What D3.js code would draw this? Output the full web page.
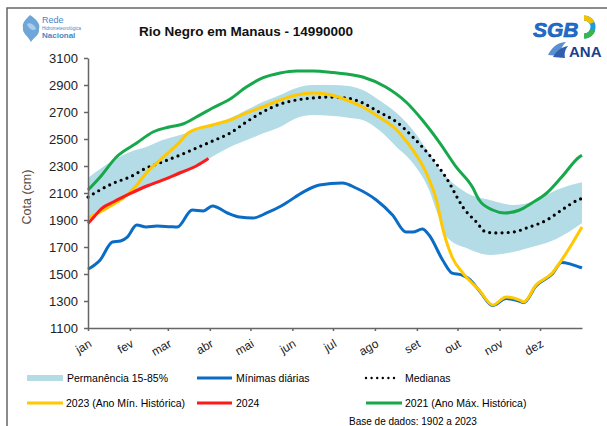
<!DOCTYPE html>
<html>
<head>
<meta charset="utf-8">
<script src="https://cdn.jsdelivr.net/npm/d3@7"></script>
<style>
  body { margin: 0; background: #fff; }
  text { font-family: Arial, "Liberation Sans", sans-serif; }
</style>
</head>
<body>
<script>
// month labels and their first day of year
const months = ["jan","fev","mar","abr","mai","jun","jul","ago","set","out","nov","dez"];
const monthStarts = [0,31,59,90,120,151,181,212,243,273,304,334];
const yTicks = [1100,1300,1500,1700,1900,2100,2300,2500,2700,2900,3100];

// permanencia 15-85% band
const bandDays = [0,19,31,43,55,68,80,92,105,117,129,142,154,166,181,191,203,215,228,240,252,258,265,280,297,314,330,346,365];
const bandHigh = [2211,2344,2404,2440,2492,2530,2567,2604,2655,2715,2774,2826,2878,2900,2900,2895,2863,2789,2693,2567,2396,2300,2218,2100,2048,2011,2040,2122,2180];
const bandLow  = [1915,2026,2085,2137,2185,2233,2290,2370,2441,2490,2540,2589,2655,2678,2670,2660,2641,2567,2441,2322,2122,1952,1774,1690,1641,1663,1705,1760,1878];

// medianas
const medDays = [0,19,31,43,55,68,80,92,105,117,129,142,154,166,178,191,203,215,228,240,247,257,267,273,277,287,294,302,314,326,339,350,362,365];
const medVals = [2070,2174,2219,2285,2330,2381,2433,2485,2544,2626,2700,2759,2789,2804,2811,2804,2767,2700,2626,2515,2441,2322,2174,2063,1996,1885,1811,1804,1811,1848,1900,1974,2048,2060];

// minimas diarias
const minDays = [0,9,18,24,29,36,43,51,61,66,77,85,92,103,112,122,132,142,147,159,171,188,198,213,225,235,240,247,252,262,269,276,282,289,299,309,319,322,331,343,350,356,362,365];
const minVals = [1535,1604,1737,1744,1774,1863,1848,1855,1850,1848,1974,1967,2004,1952,1922,1915,1952,2000,2030,2107,2159,2174,2137,2048,1937,1811,1811,1833,1789,1604,1507,1493,1460,1378,1266,1318,1298,1288,1412,1500,1585,1575,1555,1545];

// 2023 (ano min. historica)
const y2023Days = [0,9,18,26,36,43,55,66,75,92,105,117,129,142,154,166,176,191,203,215,228,240,250,258,262,269,277,289,299,309,319,322,331,343,350,358,365];
const y2023Vals = [1915,1960,2011,2063,2159,2248,2360,2460,2552,2604,2641,2693,2737,2789,2826,2841,2833,2789,2737,2663,2567,2418,2248,2026,1841,1626,1507,1381,1270,1330,1307,1293,1418,1507,1604,1730,1848];

// 2024
const y2024Days = [0,5,10,19,31,43,55,68,80,89];
const y2024Vals = [1875,1930,1985,2035,2095,2150,2195,2250,2300,2355];

// 2021 (ano max. historica)
const y2021Days = [0,9,21,36,48,60,70,80,92,105,117,129,142,154,166,181,203,220,235,247,260,272,284,289,299,308,319,328,339,350,363,365];
const y2021Vals = [2122,2219,2367,2470,2552,2589,2611,2663,2730,2796,2885,2952,2989,3004,3004,2992,2959,2885,2774,2641,2470,2293,2144,2048,1974,1952,1974,2026,2100,2218,2367,2380];

const W = 607, H = 426;
const svg = d3.select("body").append("svg").attr("width", W).attr("height", H);

// outer frame
svg.append("rect").attr("x", 7).attr("y", 8).attr("width", 700).attr("height", 500)
  .attr("fill", "none").attr("stroke", "#666").attr("stroke-width", 1.5);

let x = d3.scaleLinear().domain([0, 365]).range([88, 582]);
let y = d3.scaleLinear().domain([1100, 3100]).range([328, 58]);

const zip = (days, vals) => days.map((d, i) => ({day: d, v: vals[i]}));
let line = d3.line().x(d => x(d.day)).y(d => y(d.v)).curve(d3.curveMonotoneX);

// band
let band = bandDays.map((d, i) => ({day: d, hi: bandHigh[i], lo: bandLow[i]}));
svg.append("path").datum(band)
  .attr("d", d3.area().x(d => x(d.day)).y0(d => y(d.lo)).y1(d => y(d.hi)).curve(d3.curveMonotoneX))
  .attr("fill", "#b3dce6");

// lines
svg.append("path").datum(zip(minDays, minVals)).attr("d", line)
  .attr("fill", "none").attr("stroke", "#0a6cc4").attr("stroke-width", 3);
svg.append("path").datum(zip(medDays, medVals)).attr("d", line)
  .attr("fill", "none").attr("stroke", "#000").attr("stroke-width", 3.2)
  .attr("stroke-linecap", "round").attr("stroke-dasharray", "0,6.2");
svg.append("path").datum(zip(y2021Days, y2021Vals)).attr("d", line)
  .attr("fill", "none").attr("stroke", "#17a84b").attr("stroke-width", 3);
svg.append("path").datum(zip(y2023Days, y2023Vals)).attr("d", line)
  .attr("fill", "none").attr("stroke", "#ffc800").attr("stroke-width", 3);
svg.append("path").datum(zip(y2024Days, y2024Vals)).attr("d", line)
  .attr("fill", "none").attr("stroke", "#ff1a1a").attr("stroke-width", 3);

/*
 *  A X E S
 */
let yAxis = d3.axisLeft(y).tickValues(yTicks).tickFormat(d3.format("d"))
  .tickSize(4).tickSizeOuter(0).tickPadding(6);
let gy = svg.append("g").attr("transform", "translate(88,0)").call(yAxis);
gy.selectAll("text").style("font-size", "13px").attr("fill", "#222");

let xAxis = d3.axisBottom(x).tickValues(monthStarts).tickSize(3).tickSizeOuter(0)
  .tickFormat((d, i) => months[i]);
let gx = svg.append("g").attr("transform", "translate(0,328)").call(xAxis);
gx.selectAll("text")
  .attr("x", 0).attr("y", 0).attr("dy", 0)
  .attr("transform", "translate(4,18) rotate(-30)")
  .style("text-anchor", "end").style("font-size", "12px").attr("fill", "#222");

[gx, gy].forEach(g => {
  g.selectAll("path.domain").attr("stroke", "#666").attr("stroke-width", 1.5);
  g.selectAll(".tick line").attr("stroke", "#666").attr("stroke-width", 1.5);
});

svg.append("text").attr("transform", "translate(31,197) rotate(-90)")
  .style("text-anchor", "middle").style("font-size", "12.5px").attr("fill", "#5b4a3a")
  .text("Cota (cm)");

// title
svg.append("text").attr("x", 246).attr("y", 36).style("text-anchor", "middle")
  .style("font-size", "13.5px").style("font-weight", "bold").attr("fill", "#111")
  .text("Rio Negro em Manaus - 14990000");

/*
 *  L O G O S
 */
let lg = svg.append("g");
lg.append("path").attr("d", "M30,15 C25,20 22,23 23,28 C22,33 28,36 31,42 C34,37 40,35 39,29 C41,24 36,19 30,15 Z")
  .attr("fill", "#6fa6d8");
lg.append("path").attr("d", "M27,24 C30,22 35,25 36,29 C33,31 29,30 27,24 Z").attr("fill", "#a9cdee");
lg.append("text").attr("x", 42).attr("y", 23).style("font-size", "9px").attr("fill", "#4a86c5").text("Rede");
lg.append("text").attr("x", 42).attr("y", 30).style("font-size", "4.5px").attr("fill", "#4a86c5").text("Hidrometeorológica");
lg.append("text").attr("x", 42).attr("y", 38).style("font-size", "8px").style("font-weight", "bold").attr("fill", "#4a86c5").text("Nacional");

let rg = svg.append("g");
rg.append("text").attr("x", 533).attr("y", 37).style("font-size", "21px").style("font-weight", "bold")
  .style("font-style", "italic").attr("fill", "#1d6fd1").attr("stroke", "#0d4fa8").attr("stroke-width", 0.6).text("SGB");
rg.append("path").attr("d", "M584,18 A9,9 0 1,1 584,36").attr("fill", "none").attr("stroke", "#1e9be0").attr("stroke-width", 5);
rg.append("path").attr("d", "M584,18 A9,9 0 0,1 592,23").attr("fill", "none").attr("stroke", "#f2c100").attr("stroke-width", 5);
rg.append("path").attr("d", "M593,30 A9,9 0 0,1 584,36").attr("fill", "none").attr("stroke", "#39b54a").attr("stroke-width", 5);
rg.append("path").attr("d", "M548,55 C553,45 560,42 566,42 C562,46 560,50 560,56 Z").attr("fill", "#5a8fd0");
rg.append("path").attr("d", "M553,57 C557,50 562,47 568,46 C565,50 564,53 565,58 Z").attr("fill", "#2f5fae");
rg.append("text").attr("x", 569).attr("y", 57).style("font-size", "15px").style("font-weight", "bold")
  .attr("fill", "#1b3f8b").text("ANA");

/*
 *  L E G E N D
 */
let leg = svg.append("g").style("font-size", "10.5px");
leg.append("rect").attr("x", 27).attr("y", 375).attr("width", 36).attr("height", 6).attr("fill", "#b3dce6");
leg.append("text").attr("x", 67).attr("y", 382).text("Permanência 15-85%");
leg.append("line").attr("x1", 197).attr("x2", 232).attr("y1", 378).attr("y2", 378)
  .attr("stroke", "#0a6cc4").attr("stroke-width", 3);
leg.append("text").attr("x", 236).attr("y", 382).text("Mínimas diárias");
leg.append("line").attr("x1", 366).attr("x2", 398).attr("y1", 378).attr("y2", 378)
  .attr("stroke", "#000").attr("stroke-width", 2.4).attr("stroke-linecap", "round").attr("stroke-dasharray", "0,5.6");
leg.append("text").attr("x", 405).attr("y", 382).text("Medianas");

leg.append("line").attr("x1", 27).attr("x2", 63).attr("y1", 403).attr("y2", 403)
  .attr("stroke", "#ffc800").attr("stroke-width", 3);
leg.append("text").attr("x", 66).attr("y", 407).text("2023 (Ano Mín. Histórica)");
leg.append("line").attr("x1", 197).attr("x2", 232).attr("y1", 403).attr("y2", 403)
  .attr("stroke", "#ff1a1a").attr("stroke-width", 3);
leg.append("text").attr("x", 236).attr("y", 407).text("2024");
leg.append("line").attr("x1", 366).attr("x2", 402).attr("y1", 403).attr("y2", 403)
  .attr("stroke", "#17a84b").attr("stroke-width", 3);
leg.append("text").attr("x", 405).attr("y", 407).text("2021 (Ano Máx. Histórica)");
leg.append("text").attr("x", 349).attr("y", 425).style("font-size", "10px").text("Base de dados: 1902 a 2023");
</script>
</body>
</html>
